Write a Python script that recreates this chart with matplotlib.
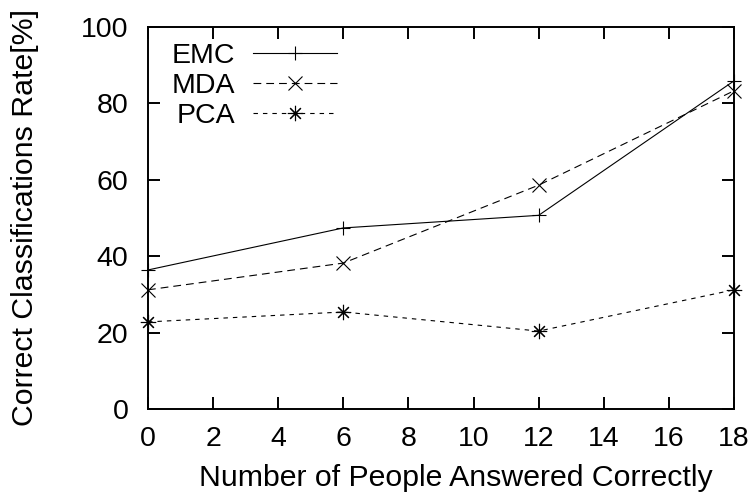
import matplotlib.pyplot as plt

plt.rcParams['font.family'] = ['Liberation Sans', 'DejaVu Sans']

people = [0, 6, 12, 18]
emc = [36.4, 47.4, 50.7, 85.9]
mda = [31.2, 38.2, 58.6, 83.3]
pca = [22.8, 25.4, 20.4, 31.2]

x_ticks = [0, 2, 4, 6, 8, 10, 12, 14, 16, 18]
y_ticks = [0, 20, 40, 60, 80, 100]

FS = 20.5        # tick labels and key
LABEL_FS = 21.8  # axis titles

fig = plt.figure(figsize=(7.54, 4.99), dpi=100)
ax = fig.add_axes([148 / 754, 90 / 499, 586 / 754, 382 / 499])

ax.plot(people, emc, color='k', lw=0.8, marker='+', ms=9.5, mew=0.8,
        clip_on=False, label='EMC')
ax.plot(people, mda, color='k', lw=0.8, ls=(0, (7, 4.5)), marker='x', ms=9.5, mew=0.8,
        clip_on=False, label='MDA')
ax.plot(people, pca, color='k', lw=0.8, ls=(0, (4, 4.5)), marker=(8, 2, 0), ms=11, mew=0.8,
        clip_on=False, label='PCA')

ax.set_xlim(0, 18)
ax.set_ylim(0, 100)
ax.set_xticks(x_ticks)
ax.set_yticks(y_ticks)
ax.tick_params(direction='in', length=8.6, width=1.4, labelsize=FS,
               top=True, right=True, pad=12)
ax.tick_params(axis='y', pad=14)
for s in ax.spines.values():
    s.set_linewidth(1.4)

ax.set_xlabel('Number of People Answered Correctly', fontsize=LABEL_FS)
ax.set_ylabel('Correct Classifications Rate[%]', fontsize=LABEL_FS)
ax.xaxis.set_label_coords(0.526, -0.144)
ax.yaxis.set_label_coords(-0.186, 0.5)

ax.legend(loc='upper left', bbox_to_anchor=(0.041, 0.959), frameon=False,
          markerfirst=False, fontsize=FS, handlelength=2.95, handletextpad=0.63,
          labelspacing=0.14, borderpad=0, borderaxespad=0)

fig.savefig('out.png', dpi=100)
